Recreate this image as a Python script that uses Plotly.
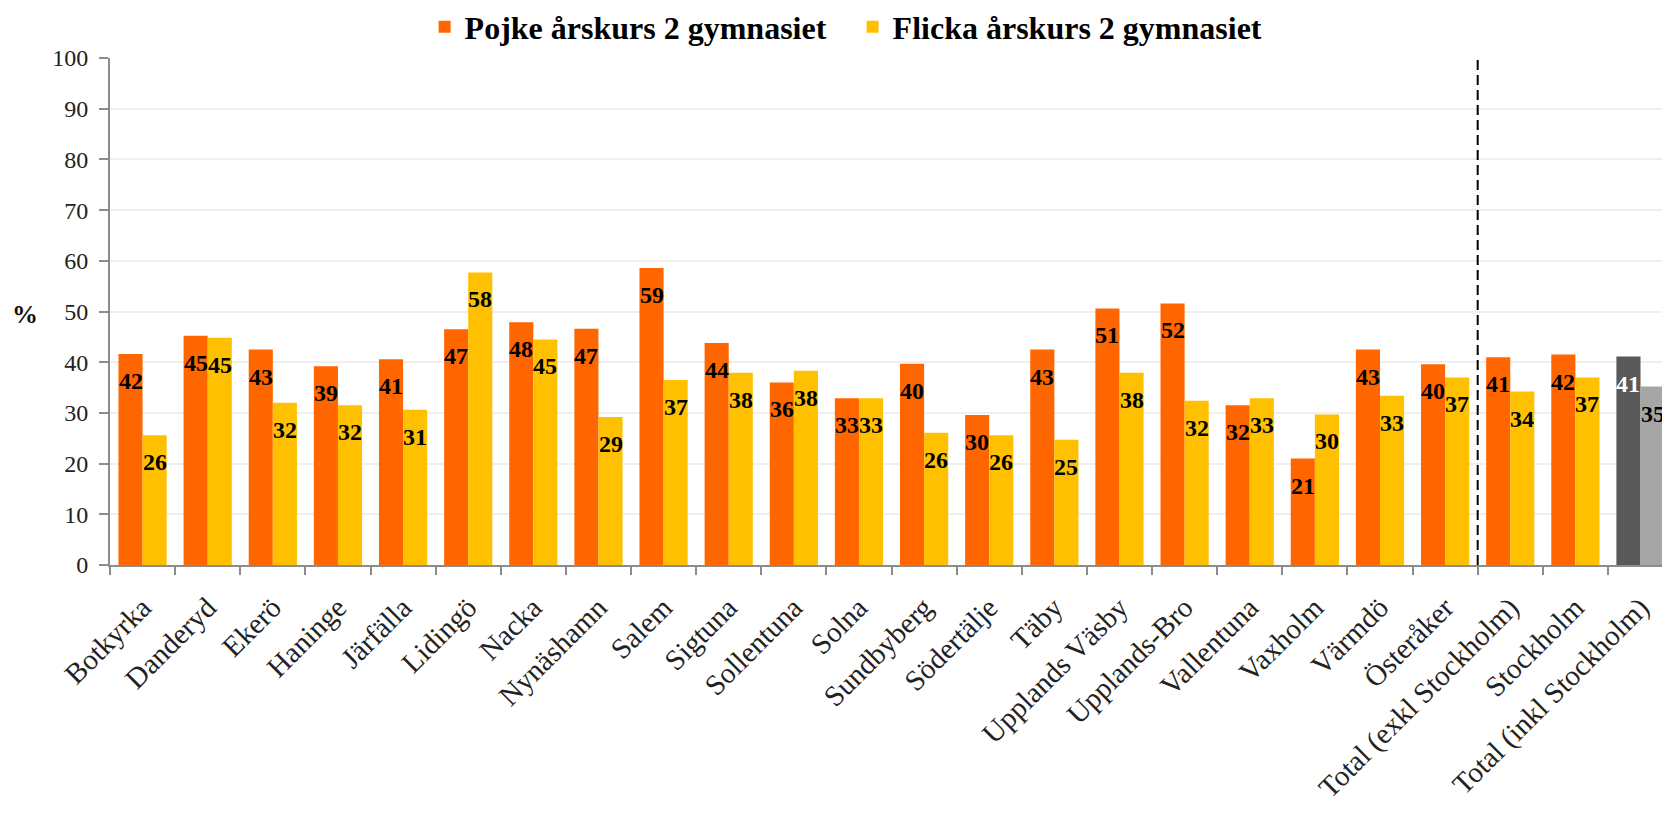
import plotly.graph_objects as go

categories = ["Botkyrka", "Danderyd", "Ekerö", "Haninge", "Järfälla", "Lidingö", "Nacka",
              "Nynäshamn", "Salem", "Sigtuna", "Sollentuna", "Solna", "Sundbyberg", "Södertälje",
              "Täby", "Upplands Väsby", "Upplands-Bro", "Vallentuna", "Vaxholm", "Värmdö",
              "Österåker", "Total (exkl Stockholm)", "Stockholm", "Total (inkl Stockholm)"]
pojke = [41.6, 45.2, 42.5, 39.2, 40.6, 46.5, 47.9, 46.6, 58.6, 43.8, 36.0, 32.9, 39.7, 29.6,
         42.5, 50.6, 51.6, 31.5, 21.0, 42.5, 39.6, 41.0, 41.5, 41.1]
flicka = [25.6, 44.8, 32.0, 31.5, 30.6, 57.7, 44.5, 29.2, 36.5, 37.9, 38.3, 32.9, 26.1, 25.6,
          24.7, 37.9, 32.4, 32.9, 29.7, 33.4, 37.0, 34.2, 37.0, 35.2]
series_names = ["Pojke årskurs 2 gymnasiet", "Flicka årskurs 2 gymnasiet"]
y_ticks = [0, 10, 20, 30, 40, 50, 60, 70, 80, 90, 100]

ORANGE = "#FF6600"
YELLOW = "#FFC000"
DARK = "#595959"
LIGHT = "#A6A6A6"
SERIF = "Liberation Serif, Times New Roman, serif"

W, H = 1662, 816
ML, MR, MT, MB = 110, 0, 58, 251
X_END = 23.33
BARGAP = 0.26

n = len(categories)
pojke_colors = [ORANGE] * (n - 1) + [DARK]
flicka_colors = [YELLOW] * (n - 1) + [LIGHT]
pojke_text_colors = ["#000000"] * (n - 1) + ["#FFFFFF"]
flicka_text_colors = ["#000000"] * n

fig = go.Figure()
fig.add_trace(go.Bar(name=series_names[0], x=categories, y=pojke,
                     marker=dict(color=pojke_colors, line=dict(width=0))))
fig.add_trace(go.Bar(name=series_names[1], x=categories, y=flicka,
                     marker=dict(color=flicka_colors, line=dict(width=0))))

# per-bar pixel geometry derived from the axis
cat_px = (W - ML - MR) / (X_END + 0.5)
bar_px = cat_px * (1 - BARGAP) / 2


def lab(v):
    return str(int(v + 0.5))


annotations = []
for vals, tcols, side in ((pojke, pojke_text_colors, -1), (flicka, flicka_text_colors, 1)):
    for c, v, tc in zip(categories, vals, tcols):
        annotations.append(dict(x=c, y=v, xref="x", yref="y", text="<b>%s</b>" % lab(v),
                                showarrow=False, xanchor="center", yanchor="middle",
                                xshift=side * bar_px / 2, yshift=-27,
                                font=dict(family=SERIF, size=24, color=tc)))

annotations.append(dict(x=-0.055, y=0.495, xref="paper", yref="paper", text="<b>%</b>",
                        showarrow=False, xanchor="center", yanchor="middle",
                        font=dict(family=SERIF, size=26, color="#111111")))

sep = categories.index("Österåker") + 0.5

fig.update_layout(
    width=W, height=H,
    margin=dict(l=ML, r=MR, t=MT, b=MB, pad=0, autoexpand=False),
    paper_bgcolor="white", plot_bgcolor="white",
    barmode="group", bargap=BARGAP, bargroupgap=0,
    showlegend=True,
    legend=dict(orientation="h", xref="container", yref="container",
                x=0.513, y=1 - 27 / H, xanchor="center", yanchor="middle",
                font=dict(family=SERIF, size=32, color="#000000", weight="bold"),
                entrywidth=383, entrywidthmode="pixels",
                itemclick=False, bgcolor="rgba(0,0,0,0)"),
    xaxis=dict(type="category", range=[-0.5, X_END], tickson="boundaries",
               ticks="outside", ticklen=8, tickwidth=2, tickcolor="#8C8C8C",
               showline=True, linecolor="#8C8C8C", linewidth=2, showgrid=False,
               tickangle=-45, ticklabelstandoff=12,
               tickfont=dict(family=SERIF, size=29, color="#222222")),
    yaxis=dict(range=[0, 100], tickvals=y_ticks, ticks="outside", ticklen=9, tickwidth=2,
               tickcolor="#8C8C8C", showline=True, linecolor="#8C8C8C", linewidth=2,
               showgrid=True, gridcolor="#EFEFEF", gridwidth=2, zeroline=False,
               ticklabelstandoff=6,
               tickfont=dict(family=SERIF, size=24, color="#222222")),
    shapes=[dict(type="line", xref="x", yref="y", x0=sep, x1=sep, y0=0, y1=100,
                 line=dict(color="#000000", width=2, dash="10px,5px"))],
    annotations=annotations,
)

fig.write_html("out.html", config={"displayModeBar": False},
               post_script="document.body.style.margin='0';document.body.style.overflow='hidden';")
